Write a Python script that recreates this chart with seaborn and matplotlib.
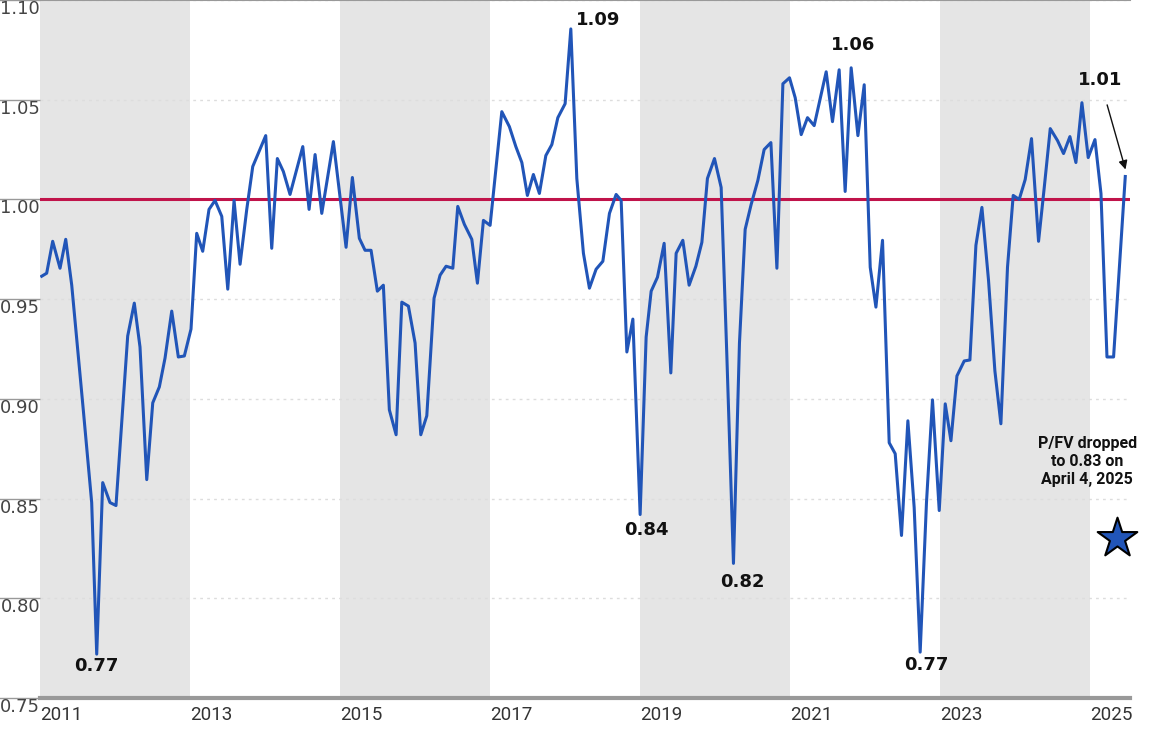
import matplotlib
matplotlib.use("Agg")
import matplotlib.pyplot as plt
import seaborn as sns
import pandas as pd
from matplotlib import font_manager

years = [2011.023, 2011.089, 2011.169, 2011.267, 2011.343, 2011.423, 2011.577, 2011.689, 2011.756, 2011.836,
         2011.933, 2012.013, 2012.169, 2012.257, 2012.333, 2012.423, 2012.503, 2012.591, 2012.667, 2012.756,
         2012.844, 2012.924, 2013.013, 2013.089, 2013.169, 2013.253, 2013.333, 2013.423, 2013.503, 2013.587,
         2013.667, 2013.756, 2013.836, 2014.009, 2014.089, 2014.164, 2014.244, 2014.333, 2014.503, 2014.587,
         2014.667, 2014.756, 2014.911, 2015.080, 2015.164, 2015.257, 2015.333, 2015.413, 2015.497, 2015.577,
         2015.657, 2015.747, 2015.823, 2015.911, 2016.000, 2016.076, 2016.156, 2016.253, 2016.333, 2016.413,
         2016.503, 2016.569, 2016.657, 2016.756, 2016.831, 2016.911, 2017.000, 2017.156, 2017.257, 2017.343,
         2017.423, 2017.497, 2017.577, 2017.657, 2017.743, 2017.823, 2017.903, 2018.000, 2018.076, 2018.156,
         2018.244, 2018.324, 2018.413, 2018.503, 2018.591, 2018.680, 2018.747, 2018.823, 2018.903, 2019.000,
         2019.080, 2019.147, 2019.231, 2019.320, 2019.409, 2019.480, 2019.569, 2019.653, 2019.743, 2019.823,
         2019.897, 2019.991, 2020.080, 2020.156, 2020.244, 2020.324, 2020.400, 2020.480, 2020.569, 2020.653,
         2020.743, 2020.823, 2020.903, 2020.991, 2021.067, 2021.147, 2021.231, 2021.320, 2021.480, 2021.564,
         2021.653, 2021.733, 2021.813, 2021.903, 2021.987, 2022.067, 2022.143, 2022.231, 2022.320, 2022.400,
         2022.484, 2022.569, 2022.653, 2022.733, 2022.817, 2022.897, 2022.987, 2023.067, 2023.143, 2023.223,
         2023.320, 2023.396, 2023.476, 2023.556, 2023.644, 2023.729, 2023.809, 2023.897, 2023.973, 2024.053,
         2024.133, 2024.217, 2024.311, 2024.387, 2024.467, 2024.564, 2024.644, 2024.729, 2024.809, 2024.889,
         2024.973, 2025.063, 2025.143, 2025.223, 2025.311, 2025.467]
pfv = [0.9615, 0.963, 0.979, 0.9655, 0.980, 0.957, 0.8945, 0.848, 0.772, 0.858,
       0.848, 0.8465, 0.9315, 0.948, 0.926, 0.8595, 0.898, 0.906, 0.9205, 0.944,
       0.921, 0.9215, 0.935, 0.983, 0.974, 0.995, 0.9995, 0.9915, 0.955, 0.9995,
       0.9675, 0.995, 1.0165, 1.032, 0.9755, 1.0205, 1.014, 1.0025, 1.0265, 0.995,
       1.0225, 0.993, 1.029, 0.976, 1.011, 0.9805, 0.9745, 0.9745, 0.954, 0.957,
       0.8945, 0.882, 0.9485, 0.9465, 0.928, 0.882, 0.8915, 0.9505, 0.962, 0.9665,
       0.9655, 0.9965, 0.9875, 0.980, 0.958, 0.9895, 0.987, 1.044, 1.0365, 1.0265,
       1.0185, 1.002, 1.0125, 1.003, 1.022, 1.0275, 1.041, 1.048, 1.0855, 1.0105,
       0.973, 0.9555, 0.965, 0.969, 0.993, 1.0025, 0.9995, 0.9235, 0.940, 0.842,
       0.931, 0.954, 0.961, 0.978, 0.913, 0.973, 0.9795, 0.957, 0.9665, 0.9785,
       1.0105, 1.0205, 1.006, 0.9215, 0.8175, 0.928, 0.985, 0.9975, 1.0095, 1.025,
       1.0285, 0.9655, 1.058, 1.061, 1.051, 1.0325, 1.041, 1.037, 1.064, 1.039,
       1.065, 1.004, 1.066, 1.032, 1.0575, 0.966, 0.946, 0.9795, 0.878, 0.8725,
       0.8315, 0.889, 0.8455, 0.773, 0.848, 0.8995, 0.844, 0.8975, 0.879, 0.9115,
       0.919, 0.9195, 0.977, 0.996, 0.9595, 0.914, 0.8875, 0.966, 1.002, 1.000,
       1.010, 1.0305, 0.979, 1.006, 1.0355, 1.0295, 1.023, 1.0315, 1.0185, 1.0485,
       1.021, 1.030, 1.003, 0.921, 0.921, 1.0115]

ytick_vals = [0.75, 0.80, 0.85, 0.90, 0.95, 1.00, 1.05, 1.10]
ytick_labels = ["0.75", "0.80", "0.85", "0.90", "0.95", "1.00", "1.05", "1.10"]
xtick_vals = [2011, 2013, 2015, 2017, 2019, 2021, 2023, 2025]
xtick_labels = ["2011", "2013", "2015", "2017", "2019", "2021", "2023", "2025"]
shade_spans = [(2011, 2013), (2015, 2017), (2019, 2021), (2023, 2025)]
fair_value = 1.00
peak_labels = ["0.77", "1.09", "0.84", "0.82", "1.06", "0.77"]
peak_x = [2011.75, 2018.147, 2019.08, 2020.36, 2021.84, 2022.81]
peak_y = [0.766, 1.09, 0.834, 0.808, 1.0775, 0.7665]
peak_ha = ["center", "left", "center", "center", "center", "center"]
star_x, star_y = 2025.36, 0.83

names = {f.name for f in font_manager.fontManager.ttflist}
cond = "Liberation Sans Narrow" if "Liberation Sans Narrow" in names else "Roboto"

df = pd.DataFrame({"year": years, "pfv": pfv})

fig = plt.figure(figsize=(11.49, 7.38), dpi=100)
ax = fig.add_axes([40/1149, 1 - 698/738, 1090/1149, 698/738])

for a, b in shade_spans:
    ax.axvspan(a, b, color="#e5e5e5", lw=0, zorder=0)
for v in ytick_vals:
    ax.axhline(v, color="#dddddd", lw=1, ls=(0, (2, 3)), zorder=0.5)

sns.lineplot(data=df, x="year", y="pfv", ax=ax, color="#2155b8", lw=2.2, zorder=3)
ax.axhline(fair_value, color="#c0134a", lw=2.2, zorder=2)

ax.set_xlim(2011.0, 2025.53)
ax.set_ylim(0.75, 1.10)
ax.set_xticks(xtick_vals)
ax.set_xticklabels(xtick_labels, fontfamily=cond, fontsize=13.5, color="#333333", ha="left")
ax.set_yticks(ytick_vals)
ax.set_yticklabels(ytick_labels, fontfamily="DejaVu Sans", fontsize=13, color="#444444", va="top")
ax.tick_params(axis="x", length=0, pad=6)
ax.tick_params(axis="y", length=30, color="#999999", pad=-30, width=1)
for lab in ax.get_yticklabels():
    lab.set_horizontalalignment("right")
ax.set_xlabel("")
ax.set_ylabel("")
for s in ["left", "right"]:
    ax.spines[s].set_visible(False)
ax.spines["top"].set_color("#999999")
ax.spines["bottom"].set_color("#999999")
ax.spines["bottom"].set_linewidth(3)
ax.spines["top"].set_linewidth(1.5)

for t, x, y, ha in zip(peak_labels, peak_x, peak_y, peak_ha):
    ax.text(x, y, t, ha=ha, va="center", fontsize=13, fontweight="bold", color="#111111", zorder=5)

ax.annotate("1.01", xy=(2025.47, 1.015), xytext=(2025.13, 1.06), ha="center", va="center",
            fontsize=13, fontweight="bold", color="#111111",
            arrowprops=dict(arrowstyle="-|>", color="#111111", lw=1, shrinkA=10, shrinkB=0))
ax.text(2024.96, 0.8685, "P/FV dropped\nto 0.83 on\nApril 4, 2025", ha="center", va="center",
        fontsize=11.5, fontweight="bold", fontfamily=cond, color="#111111", linespacing=1.25)
ax.scatter([star_x], [star_y], marker="*", s=900, color="#2155b8", edgecolor="black",
           linewidth=1.5, zorder=6, clip_on=False)

fig.savefig("out.png", dpi=100)
